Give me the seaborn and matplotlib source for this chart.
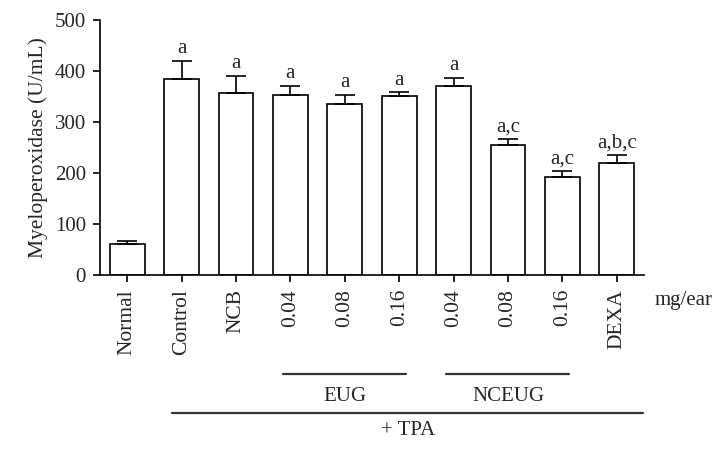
import numpy as np
import pandas as pd
import matplotlib
matplotlib.use("Agg")
import matplotlib.pyplot as plt
import seaborn as sns

# data
groups = ["Normal", "Control", "NCB", "EUG 0.04", "EUG 0.08", "EUG 0.16",
          "NCEUG 0.04", "NCEUG 0.08", "NCEUG 0.16", "DEXA"]
tick_labels = ["Normal", "Control", "NCB", "0.04", "0.08", "0.16",
               "0.04", "0.08", "0.16", "DEXA"]
mpo = [61, 385, 357, 353, 336, 350, 370, 255, 192, 220]
sem = [5, 35, 34, 18, 17, 8, 17, 11, 12, 15]
letters = ["", "a", "a", "a", "a", "a", "a", "a,c", "a,c", "a,b,c"]

df = pd.DataFrame({"group": groups, "mpo": mpo, "sem": sem})

sns.set_style("ticks")
plt.rcParams["font.family"] = ["Liberation Serif", "DejaVu Serif"]

fig = plt.figure(figsize=(7.26, 4.51), dpi=100)
ax = fig.add_axes([0.1377, 0.3902, 0.887 - 0.1377, 0.9557 - 0.3902])

sns.barplot(data=df, x="group", y="mpo", order=groups, color="white",
            edgecolor="black", linewidth=1.2, width=0.64, errorbar=None, ax=ax)
ax.errorbar(np.arange(len(groups)), df["mpo"],
            yerr=[np.zeros(len(groups)), df["sem"]], fmt="none",
            ecolor="black", elinewidth=1.2, capsize=7, capthick=1.2)

for i, (v, e, t) in enumerate(zip(mpo, sem, letters)):
    if t:
        ax.annotate(t, (i, v + e), xytext=(0, 2), textcoords="offset points",
                    ha="center", va="bottom", fontsize=15)

ax.set_xlim(-0.5, 9.5)
ax.set_ylim(0, 500)
ax.set_yticks([0, 100, 200, 300, 400, 500])
ax.set_xticks(range(len(groups)))
ax.set_xticklabels(tick_labels, rotation=90, fontsize=15.5)
ax.set_xlabel("")
ax.set_ylabel("Myeloperoxidase (U/mL)", fontsize=15.5, labelpad=5)
ax.tick_params(axis="y", labelsize=15)
ax.tick_params(axis="both", length=5, width=1.2, color="black",
               direction="out", pad=5)
for s in ["left", "bottom"]:
    ax.spines[s].set_linewidth(1.2)
    ax.spines[s].set_color("black")
sns.despine(ax=ax)

ax.text(1.02, -0.1, "mg/ear", transform=ax.transAxes, fontsize=15,
        ha="left", va="center")

# group brackets under the axis
tr = ax.get_xaxis_transform()
ax.plot([2.87, 5.13], [-0.388, -0.388], transform=tr, clip_on=False,
        color="#333333", lw=1.6)
ax.plot([5.86, 8.13], [-0.388, -0.388], transform=tr, clip_on=False,
        color="#333333", lw=1.6)
ax.plot([0.83, 9.49], [-0.541, -0.541], transform=tr, clip_on=False,
        color="#333333", lw=1.6)
ax.text(4, -0.475, "EUG", transform=tr, ha="center", va="center", fontsize=15)
ax.text(7, -0.475, "NCEUG", transform=tr, ha="center", va="center", fontsize=15)
ax.text(5.16, -0.61, "+ TPA", transform=tr, ha="center", va="center", fontsize=15)

fig.savefig("out.png", dpi=100)
